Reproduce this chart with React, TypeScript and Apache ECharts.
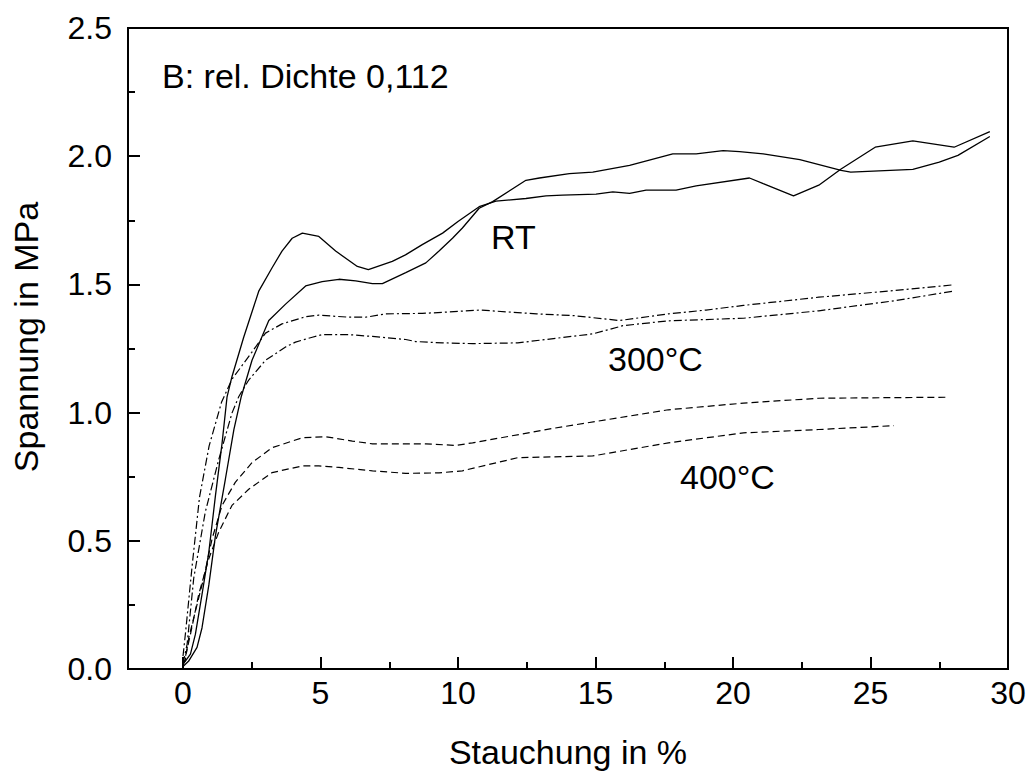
import React, { useEffect, useRef } from "react";
import * as echarts from "echarts";

const xMajorTicks = [0, 5, 10, 15, 20, 25, 30];
const xMinorTicks = [2.5, 7.5, 12.5, 17.5, 22.5, 27.5];
const yMinorTicks = [0.25, 0.75, 1.25, 1.75, 2.25];

const xAxisName = "Stauchung in %";
const yAxisName = "Spannung in MPa";
const titleText = "B: rel. Dichte 0,112";
const labelRT = "RT";
const label300 = "300°C";
const label400 = "400°C";

// RT, sample 1 (pronounced peak near 4 %)
const rtA: [number, number][] = [
  [0, 0.02], [0.08, 0.03], [0.27, 0.058], [0.45, 0.135], [0.69, 0.29], [0.94, 0.457],
  [1.18, 0.676], [1.42, 0.88], [1.6, 1.06], [1.78, 1.14], [2.21, 1.295], [2.76, 1.475],
  [3.24, 1.565], [3.6, 1.63], [3.97, 1.68], [4.34, 1.7], [4.94, 1.687], [5.55, 1.63],
  [6.34, 1.57], [6.74, 1.558], [7.61, 1.59], [8.09, 1.615], [8.7, 1.655], [9.44, 1.7],
  [10.0, 1.745], [10.77, 1.803], [11.38, 1.825], [12.47, 1.835], [13.2, 1.845],
  [13.8, 1.848], [15.02, 1.852], [15.63, 1.861], [16.24, 1.855], [16.84, 1.868],
  [17.93, 1.868], [18.66, 1.884], [20.6, 1.915], [21.1, 1.893], [22.2, 1.845],
  [23.12, 1.887], [23.93, 1.95], [25.17, 2.035], [26.54, 2.06], [28.04, 2.035], [29.34, 2.096],
];

// RT, sample 2 (plateau at 1.5)
const rtB: [number, number][] = [
  [0, 0.01], [0.2, 0.03], [0.51, 0.084], [0.69, 0.16], [0.94, 0.328], [1.18, 0.52],
  [1.54, 0.74], [1.85, 0.934], [2.12, 1.063], [2.51, 1.204], [3.12, 1.359], [3.73, 1.423],
  [4.46, 1.494], [5.06, 1.511], [5.67, 1.52], [6.28, 1.514], [6.89, 1.503], [7.25, 1.503],
  [8.1, 1.546], [8.83, 1.584], [9.31, 1.63], [9.8, 1.68], [10.16, 1.72], [10.77, 1.797],
  [11.26, 1.823], [12.47, 1.906], [12.96, 1.915], [14.05, 1.932], [14.9, 1.938],
  [16.24, 1.964], [17.81, 2.009], [18.66, 2.009], [19.64, 2.022], [20.24, 2.018],
  [21.1, 2.009], [22.43, 1.987], [23.93, 1.945], [24.28, 1.938], [26.54, 1.949],
  [27.5, 1.977], [28.18, 2.003], [29.34, 2.077],
];

// 300 °C, upper curve
const c300A: [number, number][] = [
  [0, 0.05], [0.1, 0.15], [0.33, 0.4], [0.6, 0.67], [0.95, 0.87], [1.4, 1.04],
  [1.78, 1.13], [2.5, 1.235], [3.0, 1.31], [3.6, 1.346], [4.46, 1.374], [4.94, 1.38],
  [6.04, 1.372], [6.64, 1.372], [7.37, 1.385], [8.7, 1.387], [9.44, 1.391], [10.8, 1.4],
  [12.86, 1.385], [14.23, 1.378], [15.87, 1.359], [17.65, 1.385], [19.02, 1.4],
  [20.38, 1.418], [23.12, 1.45], [25.85, 1.476], [27.98, 1.498],
];

// 300 °C, lower curve
const c300B: [number, number][] = [
  [0, 0.02], [0.15, 0.097], [0.39, 0.354], [0.81, 0.612], [1.3, 0.817], [1.78, 0.998],
  [2.03, 1.063], [2.39, 1.127], [3.0, 1.204], [3.73, 1.256], [4.09, 1.275], [4.7, 1.294],
  [5.06, 1.304], [6.04, 1.304], [6.89, 1.297], [8.1, 1.285], [8.46, 1.277], [9.44, 1.272],
  [10.53, 1.269], [12.17, 1.272], [14.9, 1.307], [16.0, 1.339], [17.65, 1.358],
  [20.38, 1.368], [23.12, 1.397], [25.85, 1.436], [28.04, 1.474],
];

// 400 °C, upper curve
const c400A: [number, number][] = [
  [0, 0.02], [0.08, 0.032], [0.21, 0.122], [0.45, 0.225], [0.75, 0.354], [1.06, 0.509],
  [1.42, 0.638], [1.9, 0.728], [2.51, 0.805], [3.24, 0.863], [4.34, 0.902], [5.18, 0.906],
  [6.16, 0.889], [6.89, 0.878], [8.83, 0.878], [9.92, 0.872], [10.53, 0.882],
  [13.54, 0.94], [17.65, 1.011], [20.38, 1.037], [23.12, 1.056], [27.77, 1.06],
];

// 400 °C, lower curve
const c400B: [number, number][] = [
  [0, 0.01], [0.08, 0.045], [0.27, 0.135], [0.57, 0.29], [0.94, 0.431], [1.3, 0.534],
  [1.78, 0.638], [2.39, 0.701], [3.24, 0.766], [4.34, 0.792], [4.94, 0.792], [5.67, 0.786],
  [6.89, 0.773], [8.1, 0.763], [9.31, 0.765], [10.16, 0.773], [12.17, 0.824],
  [14.9, 0.831], [17.65, 0.882], [20.38, 0.921], [23.12, 0.934], [25.85, 0.949],
];

const FONT = "'Liberation Sans', Arial, Helvetica, sans-serif";

export default function App() {
  const ref = useRef<HTMLDivElement>(null);

  useEffect(() => {
    if (!ref.current) return;
    const chart = echarts.init(ref.current, null, { renderer: "svg" });

    const solid = { color: "#000", width: 1.3, type: "solid" as const };
    const dashDot = { color: "#000", width: 1.2, type: [8, 3, 2, 3] };
    const dashed = { color: "#000", width: 1.2, type: [7, 4] };

    const mkSeries = (name: string, data: [number, number][], lineStyle: any) => ({
      name,
      type: "line",
      data,
      xAxisIndex: 0,
      yAxisIndex: 0,
      showSymbol: false,
      symbol: "none",
      smooth: false,
      silent: true,
      lineStyle,
      emphasis: { disabled: true },
    });

    const textStyle = (text: string) => ({
      text,
      fontSize: 34,
      fontFamily: FONT,
      fill: "#000",
      verticalAlign: "middle",
      align: "left",
    });

    chart.setOption({
      animation: false,
      backgroundColor: "#fff",
      textStyle: { fontFamily: FONT, color: "#000" },
      grid: {
        left: 128,
        right: 26,
        top: 28,
        bottom: 99,
        show: true,
        borderColor: "#000",
        borderWidth: 2,
        backgroundColor: "transparent",
      },
      xAxis: [
        {
          type: "value",
          min: -2,
          max: 30,
          position: "bottom",
          name: xAxisName,
          nameLocation: "middle",
          nameGap: 66,
          nameTextStyle: { fontSize: 34, fontFamily: FONT, color: "#000" },
          axisLine: { show: true, onZero: false, lineStyle: { color: "#000", width: 2 } },
          axisTick: {
            show: true,
            inside: true,
            length: 12,
            customValues: xMajorTicks,
            lineStyle: { color: "#000", width: 2 },
          },
          axisLabel: {
            show: true,
            customValues: xMajorTicks,
            margin: 8,
            fontSize: 32,
            fontFamily: FONT,
            color: "#000",
            formatter: (v: number) => String(Math.round(v)),
          },
          splitLine: { show: false },
        },
        {
          type: "value",
          min: -2,
          max: 30,
          position: "bottom",
          axisLine: { show: false, onZero: false },
          axisTick: {
            show: true,
            inside: true,
            length: 7,
            customValues: xMinorTicks,
            lineStyle: { color: "#000", width: 2 },
          },
          axisLabel: { show: false },
          splitLine: { show: false },
        },
      ],
      yAxis: [
        {
          type: "value",
          min: 0,
          max: 2.5,
          interval: 0.5,
          position: "left",
          axisLine: { show: true, onZero: false, lineStyle: { color: "#000", width: 2 } },
          axisTick: { show: true, inside: true, length: 12, lineStyle: { color: "#000", width: 2 } },
          axisLabel: {
            show: true,
            margin: 16,
            fontSize: 32,
            fontFamily: FONT,
            color: "#000",
            formatter: (v: number) => v.toFixed(1),
          },
          splitLine: { show: false },
        },
        {
          type: "value",
          min: 0,
          max: 2.5,
          position: "left",
          offset: 0,
          axisLine: { show: false, onZero: false },
          axisTick: {
            show: true,
            inside: true,
            length: 7,
            customValues: yMinorTicks,
            lineStyle: { color: "#000", width: 2 },
          },
          axisLabel: { show: false },
          splitLine: { show: false },
        },
      ],
      series: [
        mkSeries("RT 1", rtA, solid),
        mkSeries("RT 2", rtB, solid),
        mkSeries("300°C 1", c300A, dashDot),
        mkSeries("300°C 2", c300B, dashDot),
        mkSeries("400°C 1", c400A, dashed),
        mkSeries("400°C 2", c400B, dashed),
      ],
      graphic: [
        {
          type: "text",
          x: 26,
          y: 337,
          rotation: Math.PI / 2,
          silent: true,
          style: { ...textStyle(yAxisName), align: "center" },
        },
        { type: "text", x: 162, y: 76, silent: true, style: textStyle(titleText) },
        { type: "text", x: 491, y: 237, silent: true, style: textStyle(labelRT) },
        { type: "text", x: 608, y: 359, silent: true, style: textStyle(label300) },
        { type: "text", x: 680, y: 477, silent: true, style: textStyle(label400) },
      ],
    });

    return () => chart.dispose();
  }, []);

  return (
    <div
      ref={ref}
      style={{ position: "fixed", left: 0, top: 0, width: 1034, height: 774, background: "#fff" }}
    />
  );
}
